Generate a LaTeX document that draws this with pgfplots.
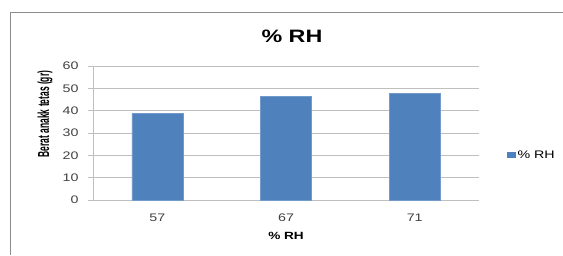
\documentclass[border=0pt]{standalone}
\usepackage{pgfplots}
\pgfplotsset{compat=1.18}
\usepackage{fontspec}
\setmainfont{Liberation Sans}
\newfontfamily\widefont[FakeStretch=1.3]{Liberation Sans}
\newfontfamily\ylabfont[FakeStretch=0.53]{Liberation Sans}
\definecolor{barblue}{HTML}{4F81BD}
\definecolor{gridgray}{HTML}{BFBFBF}
\definecolor{framegray}{HTML}{8C8C8C}
\begin{document}
\begin{tikzpicture}[x=1bp,y=1bp]
\useasboundingbox (0,0) rectangle (563,255);
\draw[framegray, line width=1.3bp] (10.5,0) -- (10.5,242.5) -- (563,242.5);
\node[font=\widefont\bfseries\fontsize{18}{20}\selectfont, inner sep=0pt] at (292,218.5) {\% RH};
\node[font=\ylabfont\bfseries\fontsize{16}{18}\selectfont, rotate=90, inner sep=0pt] at (45,141) {Berat anakk tetas (gr)};
\begin{axis}[
  at={(93bp,55bp)}, anchor=south west,
  scale only axis, width=386bp, height=134bp,
  xmin=-0.5, xmax=2.5, ymin=0, ymax=60,
  ytick={0,10,...,60},
  xtick=data, xticklabels={57,67,71},
  axis x line*=bottom, axis y line*=left,
  axis line style={gridgray},
  x axis line style={-}, y axis line style={-},
  ymajorgrids, grid style={gridgray, line width=0.8bp},
  major tick length=5bp,
  xtick style={draw=none},
  ytick style={gridgray, line width=0.8bp},
  tick align=outside,
  yticklabel style={font=\widefont\fontsize{11}{12}\selectfont, text=black!75, xshift=-6bp},
  xticklabel style={font=\widefont\fontsize{11}{12}\selectfont, text=black!75, yshift=-5bp},
  /pgf/number format/assume math mode=true,
  xlabel={\% RH},
  xlabel style={font=\widefont\bfseries\fontsize{10.5}{12}\selectfont, at={(axis description cs:0.5,0)}, anchor=center, yshift=-35.5bp},
  legend style={at={(1.0725,0.336)}, anchor=west, draw=none, fill=none, inner sep=0pt,
    font=\widefont\fontsize{11}{12}\selectfont, legend cell align=left},
  legend image code/.code={\fill[barblue] (0bp,-2.5bp) rectangle (8bp,2.5bp);},
  clip=false,
]
\addplot[ybar, bar width=51bp, fill=barblue, draw=barblue!80!white] coordinates {(0,38.8) (1,46.3) (2,47.6)};
\addlegendentry{\% RH}
\end{axis}
\end{tikzpicture}
\end{document}
